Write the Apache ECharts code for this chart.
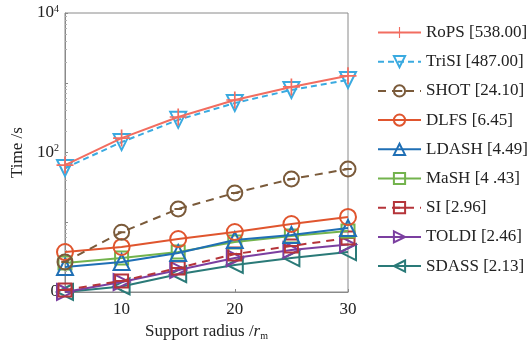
<!DOCTYPE html>
<html><head><meta charset="utf-8">
<script src="https://cdn.jsdelivr.net/npm/echarts@6/dist/echarts.min.js"></script>
<style>html,body{margin:0;padding:0;background:#fff}#c{width:532px;height:346px}</style>
</head><body><div id="c"></div>
<script>
const radii = [5, 10, 15, 20, 25, 30];
const names = ['RoPS [538.00]','TriSI [487.00]','SHOT [24.10]','DLFS [6.45]','LDASH [4.49]','MaSH [4 .43]','SI [2.96]','TOLDI [2.46]','SDASS [2.13]'];
const rops  = [66, 161, 323, 566, 870, 1256];
const trisi = [60, 141, 294, 512, 790, 1096];
const shot  = [2.7, 7.2, 15.5, 26.3, 41.7, 58];
const dlfs  = [3.74, 4.42, 5.75, 7.25, 9.44, 11.9];
const ldash = [2.28, 2.69, 3.62, 5.56, 6.56, 8.27];
const mash  = [2.6, 3.07, 3.74, 5.21, 6.33, 7.5];
const si    = [1.07, 1.44, 2.21, 3.5, 4.57, 5.95];
const toldi = [1.0, 1.39, 2.07, 3.07, 4.0, 4.8];
const sdass = [1.0, 1.2, 1.8, 2.44, 3.07, 3.74];
const yTicks = {1: '0', 100: '10{s|2}', 10000: '10{s|4}'};

const colors = ['#f26d60','#3aaae0','#7a5a3a','#e0552e','#1f6fb5','#73b34d','#b5343a','#7b3fa0','#2a7a78'];
const symbols = [
  'path://M9,0 h2 v20 h-2 z M0,9 h20 v2 h-20 z',
  'path://M0,0 L20,0 L10,17.3 Z',
  'path://M0,10 A10,10 0 1,1 20,10 A10,10 0 1,1 0,10 Z M5,10 L15,10',
  'circle',
  'path://M10,0 L20,17.3 L0,17.3 Z',
  'rect',
  'path://M0,0 H20 V20 H0 Z M0,10 H20',
  'path://M0,0 L17.3,10 L0,20 Z',
  'path://M17.3,0 L0,10 L17.3,20 Z'
];
const sizes = [17, 16, 15, 16, 16, 13, 13, 16, 16];
const dashes = [null, [6,4], [8,6], null, null, null, [8,6], null, null];
const datasets = [rops, trisi, shot, dlfs, ldash, mash, si, toldi, sdass];

const series = datasets.map((d, i) => ({
  name: names[i],
  type: 'line',
  data: d.map((v, k) => [radii[k], v]),
  symbol: symbols[i],
  symbolSize: sizes[i],
  lineStyle: {color: colors[i], width: 2, type: dashes[i] || 'solid'},
  itemStyle: i === 0 ? {color: colors[i], borderWidth: 0}
                     : {color: 'rgba(255,255,255,0)', borderColor: colors[i], borderWidth: 2},
  z: 10 - i
}));

const chart = echarts.init(document.getElementById('c'), null, {renderer: 'canvas'});
chart.setOption({
  animation: false,
  textStyle: {fontFamily: 'Liberation Serif'},
  grid: {left: 65, right: 184, top: 13, bottom: 54, show: true, borderColor: '#8a8a8a', borderWidth: 1},
  xAxis: {
    type: 'value', min: 5, max: 30,
    name: 'Support radius /{i|r}{sub|m}', nameLocation: 'middle', nameGap: 31,
    nameTextStyle: {fontSize: 17, color: '#222', fontFamily: 'Liberation Serif',
      rich: {i: {fontSize: 17, fontStyle: 'italic', fontFamily: 'Liberation Serif', color: '#222'},
             sub: {fontSize: 10, fontFamily: 'Liberation Serif', color: '#222', padding: [8,0,0,0]}}},
    axisLine: {lineStyle: {color: '#8a8a8a'}},
    axisTick: {inside: true, length: 3, customValues: [10, 20, 30], lineStyle: {color: '#8a8a8a'}},
    axisLabel: {fontSize: 17, color: '#222', margin: 9, customValues: [10, 20, 30]},
    splitLine: {show: false}
  },
  yAxis: {
    type: 'log', logBase: 10, min: 1, max: 10000,
    name: 'Time /s', nameLocation: 'middle', nameGap: 36,
    nameTextStyle: {fontSize: 17, color: '#222', fontFamily: 'Liberation Serif'},
    axisLine: {show: true, lineStyle: {color: '#8a8a8a'}},
    axisTick: {show: true, inside: true, length: 3, lineStyle: {color: '#8a8a8a'}},
    minorTick: {show: true, splitNumber: 9, length: 2, lineStyle: {color: '#b0b0b0'}},
    axisLabel: {
      fontSize: 17, color: '#222', margin: 6,
      formatter: v => { const r = Math.round(v); return yTicks[r] || ''; },
      rich: {s: {fontSize: 10, color: '#222', fontFamily: 'Liberation Serif', padding: [0,0,8,0]}}
    },
    splitLine: {show: false}
  },
  legend: {
    orient: 'vertical', left: 377, top: 24, padding: 0,
    itemWidth: 43, itemHeight: 14, itemGap: 12.2,
    textStyle: {fontSize: 17, color: '#222', fontFamily: 'Liberation Serif', lineHeight: 17},
    data: names
  },
  series: series
});
</script></body></html>
